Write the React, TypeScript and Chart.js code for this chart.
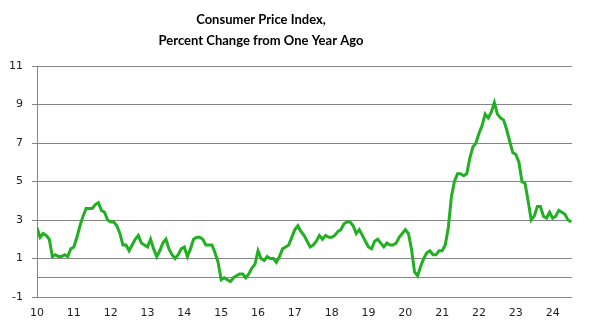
import React, { useEffect, useRef } from "react";
import { Chart, registerables } from "chart.js";

Chart.register(...registerables);

const titleLines = ["Consumer Price Index,", "Percent Change from One Year Ago"];
const yearLabels = ["10", "11", "12", "13", "14", "15", "16", "17", "18", "19", "20", "21", "22", "23", "24"];

const cpi2010 = [2.6, 2.1, 2.3, 2.2, 2.0, 1.1, 1.2, 1.1, 1.1, 1.2, 1.1, 1.5];
const cpi2011 = [1.6, 2.1, 2.7, 3.2, 3.6, 3.6, 3.6, 3.8, 3.9, 3.5, 3.4, 3.0];
const cpi2012 = [2.9, 2.9, 2.7, 2.3, 1.7, 1.7, 1.4, 1.7, 2.0, 2.2, 1.8, 1.7];
const cpi2013 = [1.6, 2.0, 1.5, 1.1, 1.4, 1.8, 2.0, 1.5, 1.2, 1.0, 1.2, 1.5];
const cpi2014 = [1.6, 1.1, 1.5, 2.0, 2.1, 2.1, 2.0, 1.7, 1.7, 1.7, 1.3, 0.8];
const cpi2015 = [-0.1, 0.0, -0.1, -0.2, 0.0, 0.1, 0.2, 0.2, 0.0, 0.2, 0.5, 0.7];
const cpi2016 = [1.4, 1.0, 0.9, 1.1, 1.0, 1.0, 0.8, 1.1, 1.5, 1.6, 1.7, 2.1];
const cpi2017 = [2.5, 2.7, 2.4, 2.2, 1.9, 1.6, 1.7, 1.9, 2.2, 2.0, 2.2, 2.1];
const cpi2018 = [2.1, 2.2, 2.4, 2.5, 2.8, 2.9, 2.9, 2.7, 2.3, 2.5, 2.2, 1.9];
const cpi2019 = [1.6, 1.5, 1.9, 2.0, 1.8, 1.6, 1.8, 1.7, 1.7, 1.8, 2.1, 2.3];
const cpi2020 = [2.5, 2.3, 1.5, 0.3, 0.1, 0.6, 1.0, 1.3, 1.4, 1.2, 1.2, 1.4];
const cpi2021 = [1.4, 1.7, 2.6, 4.2, 5.0, 5.4, 5.4, 5.3, 5.4, 6.2, 6.8, 7.0];
const cpi2022 = [7.5, 7.9, 8.5, 8.3, 8.6, 9.1, 8.5, 8.3, 8.2, 7.7, 7.1, 6.5];
const cpi2023 = [6.4, 6.0, 5.0, 4.9, 4.0, 3.0, 3.2, 3.7, 3.7, 3.2, 3.1, 3.4];
const cpi2024 = [3.1, 3.2, 3.5, 3.4, 3.3, 3.0, 2.9];

const cpiYoY = [
  ...cpi2010, ...cpi2011, ...cpi2012, ...cpi2013, ...cpi2014,
  ...cpi2015, ...cpi2016, ...cpi2017, ...cpi2018, ...cpi2019,
  ...cpi2020, ...cpi2021, ...cpi2022, ...cpi2023, ...cpi2024,
];

const GRID = "#868686";

export default function App() {
  const ref = useRef<HTMLCanvasElement>(null);

  useEffect(() => {
    if (!ref.current) return;
    const titlePlugin = {
      id: "customTitle",
      afterDraw(chart: any) {
        const ctx = chart.ctx;
        ctx.save();
        ctx.fillStyle = "#000";
        ctx.font = "bold 13px Lato";
        ctx.textAlign = "center";
        ctx.textBaseline = "middle";
        ctx.fillText(titleLines[0], 261, 20);
        ctx.fillText(titleLines[1], 261, 41);
        ctx.restore();
      },
    };
    const chart = new Chart(ref.current, {
      type: "line",
      data: {
        datasets: [
          {
            data: cpiYoY.map((v, i) => ({ x: i, y: v })),
            borderColor: "#21b021",
            borderWidth: 3,
            pointRadius: 0,
            tension: 0,
            fill: false,
          },
        ],
      },
      options: {
        responsive: false,
        animation: false,
        devicePixelRatio: 1,
        layout: { padding: { top: 66, right: 19, left: 0, bottom: 0 } },
        plugins: { legend: { display: false }, tooltip: { enabled: false }, title: { display: false } },
        scales: {
          x: {
            type: "linear",
            min: 0,
            max: 174.3,
            grid: { display: false, drawTicks: false },
            border: { display: false },
            ticks: {
              padding: 10,
              color: "#222",
              font: { family: "DejaVu Sans", size: 11 },
              maxRotation: 0,
              autoSkip: false,
              callback: (v: any) => {
                const idx = Math.round(Number(v) / 12);
                return Number(v) % 12 === 0 ? yearLabels[idx] ?? "" : "";
              },
            },
            afterBuildTicks: (scale: any) => {
              scale.ticks = yearLabels.map((_, i) => ({ value: i * 12 }));
            },
            afterFit: (scale: any) => {
              scale.height = 34;
            },
          },
          y: {
            type: "linear",
            min: -1,
            max: 11,
            grid: {
              color: (c: any) =>
                c.tick && (Math.abs(c.tick.value % 2) === 1 || c.tick.value === 0) ? GRID : "rgba(0,0,0,0)",
              tickColor: (c: any) =>
                c.tick && Math.abs(c.tick.value % 2) === 1 ? GRID : "rgba(0,0,0,0)",
              tickLength: 5,
              lineWidth: 1,
            },
            border: { display: true, color: GRID, width: 1 },
            ticks: {
              stepSize: 1,
              padding: 9,
              color: "#222",
              font: { family: "DejaVu Sans", size: 11 },
              callback: (v: any) => (Math.abs(Number(v) % 2) === 1 ? String(v) : ""),
            },
            afterFit: (scale: any) => {
              scale.width = 37;
            },
          },
        },
      },
      plugins: [titlePlugin],
    });
    return () => chart.destroy();
  }, []);

  return (
    <div style={{ position: "fixed", left: 0, top: 0, width: 591, height: 331, background: "#fff" }}>
      <canvas ref={ref} width={591} height={331} style={{ display: "block" }} />
    </div>
  );
}
